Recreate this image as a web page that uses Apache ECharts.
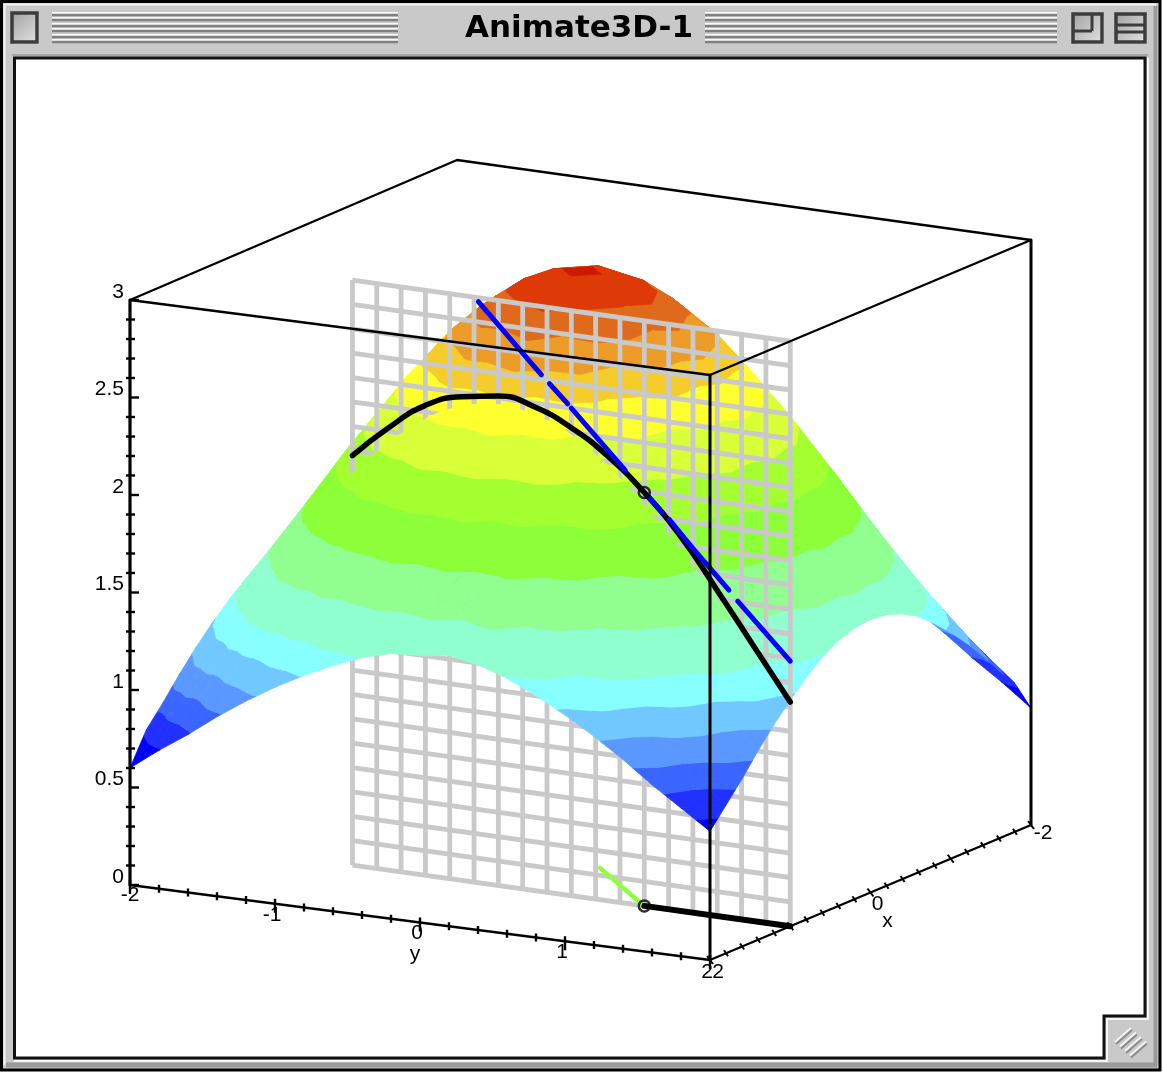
<!DOCTYPE html>
<html><head><meta charset="utf-8"><style>html,body{margin:0;padding:0;background:#fff}#c{width:1163px;height:1077px}</style>
<script src="https://cdn.jsdelivr.net/npm/echarts@6/dist/echarts.min.js"></script></head>
<body><div id="c"></div>
<script>
const windowTitle = 'Animate3D-1';
const gridX = [-2,-1.8,-1.6,-1.4,-1.2,-1,-0.8,-0.6,-0.4,-0.2,0,0.2,0.4,0.6,0.8,1,1.2,1.4,1.6,1.8,2];
const gridY = [-2,-1.8,-1.6,-1.4,-1.2,-1,-0.8,-0.6,-0.4,-0.2,0,0.2,0.4,0.6,0.8,1,1.2,1.4,1.6,1.8,2];
// surface heights: one row per gridX value, one column per gridY value
const surfaceZ = [
[.66,.76,.86,.97,1.07,1.16,1.24,1.31,1.36,1.39,1.37,1.36,1.32,1.26,1.19,1.11,1.02,.92,.81,.71,.60],
[.76,.88,1.00,1.12,1.23,1.34,1.44,1.51,1.57,1.61,1.62,1.61,1.57,1.51,1.44,1.34,1.23,1.12,1.00,.88,.76],
[.86,1.00,1.13,1.27,1.40,1.53,1.63,1.72,1.79,1.83,1.84,1.83,1.79,1.72,1.63,1.53,1.40,1.27,1.13,1.00,.86],
[.97,1.12,1.27,1.42,1.57,1.71,1.83,1.93,2.01,2.05,2.07,2.05,2.01,1.93,1.83,1.71,1.57,1.42,1.27,1.12,.97],
[1.07,1.23,1.40,1.57,1.74,1.89,2.02,2.13,2.21,2.26,2.28,2.26,2.21,2.13,2.02,1.89,1.74,1.57,1.40,1.23,1.07],
[1.16,1.34,1.53,1.71,1.89,2.05,2.20,2.32,2.41,2.46,2.48,2.46,2.41,2.32,2.20,2.05,1.89,1.71,1.53,1.34,1.16],
[1.24,1.44,1.63,1.83,2.02,2.20,2.35,2.48,2.58,2.64,2.66,2.64,2.58,2.48,2.35,2.20,2.02,1.83,1.63,1.44,1.24],
[1.31,1.51,1.72,1.93,2.13,2.32,2.48,2.62,2.72,2.78,2.80,2.78,2.72,2.62,2.48,2.32,2.13,1.93,1.72,1.51,1.31],
[1.36,1.57,1.79,2.01,2.21,2.41,2.58,2.72,2.82,2.89,2.91,2.89,2.82,2.72,2.58,2.41,2.21,2.01,1.79,1.57,1.36],
[1.39,1.61,1.83,2.05,2.26,2.46,2.64,2.78,2.89,2.95,2.98,2.95,2.89,2.78,2.64,2.46,2.26,2.05,1.83,1.61,1.39],
[1.40,1.62,1.84,2.07,2.28,2.48,2.66,2.80,2.91,2.98,3.00,2.98,2.91,2.80,2.66,2.48,2.28,2.07,1.84,1.62,1.40],
[1.39,1.61,1.83,2.05,2.26,2.46,2.64,2.78,2.89,2.95,2.98,2.95,2.89,2.78,2.64,2.46,2.26,2.05,1.83,1.61,1.39],
[1.36,1.57,1.79,2.01,2.21,2.41,2.58,2.72,2.82,2.89,2.91,2.89,2.82,2.72,2.58,2.41,2.21,2.01,1.79,1.57,1.36],
[1.31,1.51,1.72,1.93,2.13,2.32,2.48,2.62,2.72,2.78,2.80,2.78,2.72,2.62,2.48,2.32,2.13,1.93,1.72,1.51,1.31],
[1.24,1.44,1.63,1.83,2.02,2.20,2.35,2.48,2.58,2.64,2.66,2.64,2.58,2.48,2.35,2.20,2.02,1.83,1.63,1.44,1.24],
[1.16,1.34,1.53,1.71,1.89,2.05,2.20,2.32,2.41,2.46,2.48,2.46,2.41,2.32,2.20,2.05,1.89,1.71,1.53,1.34,1.16],
[1.07,1.23,1.40,1.57,1.74,1.89,2.02,2.13,2.21,2.26,2.28,2.26,2.21,2.13,2.02,1.89,1.74,1.57,1.40,1.23,1.07],
[.97,1.12,1.27,1.42,1.57,1.71,1.83,1.93,2.01,2.05,2.07,2.05,2.01,1.93,1.83,1.71,1.57,1.42,1.27,1.12,.97],
[.86,1.00,1.13,1.27,1.40,1.53,1.63,1.72,1.79,1.83,1.84,1.83,1.79,1.72,1.63,1.53,1.40,1.27,1.13,1.00,.86],
[.76,.88,1.00,1.12,1.23,1.34,1.44,1.51,1.57,1.61,1.62,1.61,1.57,1.51,1.44,1.34,1.23,1.12,1.00,.88,.76],
[.60,.71,.81,.92,1.02,1.11,1.19,1.26,1.32,1.36,1.37,1.39,1.36,1.31,1.24,1.16,1.07,.97,.86,.76,.66]];
const bandLevels = [0,.71,.82,.93,1.05,1.18,1.31,1.52,1.74,1.96,2.15,2.34,2.5,2.62,2.74,2.86,2.97,9];
const bandColors = ['#0000ff','#2030ff','#3a66ff','#5a98ff','#70c8ff','#88ffff','#90ffd0','#90ff90','#8cff38','#a4ff30','#d8ff38','#ffff30','#f5cc2a','#ec9a28','#e06a1c','#dd3a08','#cc1a00'];
// slice at x = 1
const sliceY = [-1,-.75,-.5,-.25,0,.25,.5,.75,1,1.25,1.5,1.75,2];
const sliceZ = [2.10,2.27,2.41,2.48,2.51,2.48,2.40,2.28,2.12,1.92,1.67,1.41,1.15];
// tangent at (1,1), drawn in visible pieces
const tangentY = [-.137,.295,null,.35,.475,null,.5,.87,null,1.03,1.12,null,1.17,1.33,null,1.33,1.58,null,1.64,2];
const tangentZ = [2.98,2.65,null,2.61,2.52,null,2.5,2.22,null,2.1,2.03,null,2,1.87,null,1.87,1.68,null,1.63,1.36];
const pointY = [1]; const pointZ = [2.12];
const gradX = [1,.26]; const gradY = [1,.27];
const zTicks = ['0','0.5','1','1.5','2','2.5','3'];
const yTicks = ['-2','-1','0','1','2'];
const xTicks = ['-2','0','2'];
const sliceEndsX = [.924,1]; const sliceEndsY = [-1.07,2];

const L=[130,885],F=[710,960],R=[1031,825],B=[457,745];
function project(x,y,z){const u=(y+2)/4,v=(2-x)/4;
  const f=i=>L[i]*(1-u)*(1-v)+F[i]*u*(1-v)+R[i]*u*v+B[i]*(1-u)*v;
  return [f(0),f(1)-z*195];}
function onSlice(t,z){const s=(t+1)/3;
  return project(sliceEndsX[0]+(sliceEndsX[1]-sliceEndsX[0])*s, sliceEndsY[0]+(sliceEndsY[1]-sliceEndsY[0])*s, z);}
// points are [x,y,z,c]: c is the height used for the colour bands
function clip(poly,lev,keepAbove){const out=[];
  for(let i=0;i<poly.length;i++){const a=poly[i],b=poly[(i+1)%poly.length];
    const ia=keepAbove?a[3]>=lev:a[3]<=lev, ib=keepAbove?b[3]>=lev:b[3]<=lev;
    if(ia)out.push(a);
    if(ia!==ib){const t=(lev-a[3])/(b[3]-a[3]);out.push([a[0]+(b[0]-a[0])*t,a[1]+(b[1]-a[1])*t,a[2]+(b[2]-a[2])*t,lev]);}}
  return out;}
function bandsOf(tri,target){for(let k=0;k<bandColors.length;k++){
    let p=clip(tri,bandLevels[k],true); if(p.length>2)p=clip(p,bandLevels[k+1],false);
    if(p.length>2)target.push({pts:p.map(q=>project(q[0],q[1],q[2])),color:bandColors[k]});}}
// the colour bands follow every second row and column of the heights, cut along one diagonal
function colourAt(i,j){
  const a=Math.min(Math.floor(i/2),9)*2,b=Math.min(Math.floor(j/2),9)*2,u=(i-a)/2,v=(j-b)/2;
  const c00=surfaceZ[a][b],c10=surfaceZ[a+2][b],c01=surfaceZ[a][b+2],c11=surfaceZ[a+2][b+2];
  return u+v<=1? c00+(c10-c00)*u+(c01-c00)*v : c11+(c01-c11)*(1-u)+(c10-c11)*(1-v);}
const backPolys=[],frontPolys=[];
for(let i=0;i<gridX.length-1;i++)for(let j=0;j<gridY.length-1;j++){
  const P=(a,b)=>[gridX[a],gridY[b],surfaceZ[a][b],colourAt(a,b)];
  const t=gridX[i]<0.99?backPolys:frontPolys;
  bandsOf([P(i,j),P(i+1,j),P(i,j+1)],t);
  bandsOf([P(i+1,j),P(i+1,j+1),P(i,j+1)],t);
}
function polySeries(polys,z){return {type:'custom',coordinateSystem:'cartesian2d',z:z,silent:true,clip:false,progressive:0,animation:false,
  data:polys.map((p,i)=>[i]),encode:{x:0,y:0},
  renderItem:(params,api)=>{const p=polys[params.dataIndex];
    return {type:'polygon',shape:{points:p.pts.map(q=>api.coord(q))},style:{fill:p.color,stroke:p.color,lineWidth:.8}};}};}
function segSeries(segs,z){return {type:'custom',coordinateSystem:'cartesian2d',z:z,silent:true,clip:false,progressive:0,animation:false,
  data:segs.map((s,i)=>[i]),encode:{x:0,y:0},
  renderItem:(params,api)=>{const s=segs[params.dataIndex],a=api.coord(s.a),b=api.coord(s.b);
    return {type:'line',shape:{x1:a[0]+(s.dxa||0),y1:a[1]+(s.dya||0),x2:b[0]+(s.dxb||0),y2:b[1]+(s.dyb||0)},style:{stroke:s.color||'#000',lineWidth:s.w}};}};}
function lineSeries(pts,color,w,z,smooth){return {type:'line',data:pts,z:z,showSymbol:false,silent:true,clip:false,connectNulls:false,animation:false,smooth:smooth||false,
  lineStyle:{color:color,width:w,cap:'round'}};}
// plane grid
const planeSegs=[];
for(let c=0;c<=18;c++){const t=-1+c/6;planeSegs.push({a:onSlice(t,0),b:onSlice(t,3),color:'#c9c9c9',w:4.8});}
for(let r=0;r<=24;r++){const z=r/8;planeSegs.push({a:onSlice(-1,z),b:onSlice(2,z),color:'#c9c9c9',w:4.8});}
// axes ticks
const tickSegs=[];
for(let i=0;i<=30;i++){const p=project(2,-2,i/10);const maj=i%5===0;tickSegs.push({a:p,b:p,dxa:maj?0:-4,dxb:maj?9:5,w:2.4});}
for(let i=0;i<=20;i++){const p=project(2,-2+i/5,0);const maj=i%5===0;tickSegs.push({a:p,b:p,dya:maj?-5:-4,dyb:maj?9:4,w:2.4});}
for(let i=0;i<=20;i++){const p=project(2-i/5,2,0);const maj=i%5===0;tickSegs.push({a:p,b:p,dxa:maj?-3:-2,dya:maj?-4:-3,dxb:maj?3:2,dyb:maj?4:3,w:2});}
// labels
const labels=[];
zTicks.forEach(s=>{const p=project(2,-2,+s);labels.push({s:s,p:p,dx:-6,dy:-8,align:'right'});});
yTicks.forEach(s=>{const p=project(2,+s,0);labels.push({s:s,p:p,dx:s==='-2'?0:(s==='-1'?-3:-3),dy:s==='2'?12:(s==='-2'?10:11),align:'center'});});
labels.push({s:'y',p:project(2,0,0),dx:-5,dy:32,align:'center'});
labels.push({s:'2',p:project(2,2,0),dx:8,dy:12,align:'center'});
labels.push({s:'0',p:project(0,2,0),dx:7,dy:12,align:'center'});
labels.push({s:'x',p:project(0,2,0),dx:17,dy:29,align:'center'});
labels.push({s:'-2',p:project(-2,2,0),dx:12,dy:8,align:'center'});
const labelSeries={type:'custom',coordinateSystem:'cartesian2d',z:30,silent:true,clip:false,progressive:0,animation:false,
  data:labels.map((l,i)=>[i]),encode:{x:0,y:0},
  renderItem:(params,api)=>{const l=labels[params.dataIndex],c=api.coord(l.p);
    return {type:'text',x:c[0]+l.dx,y:c[1]+l.dy,style:{text:l.s,fill:'#000',font:'21px "Liberation Sans"',textAlign:l.align,textVerticalAlign:'middle'}};}};

const cubeTop=[project(2,-2,3),project(2,2,3),project(-2,2,3),project(-2,-2,3),project(2,-2,3)];
const series=[
 polySeries(backPolys,3),
 segSeries(planeSegs,4),
 polySeries(frontPolys,5),
 lineSeries(sliceY.map((t,i)=>onSlice(t,sliceZ[i])),'#000',5.5,6,0.5),
 lineSeries(tangentY.map((t,i)=>t===null?[null,null]:onSlice(t,tangentZ[i])),'#0000ff',5,7),
 lineSeries(gradX.map((x,i)=>project(x,gradY[i],0)),'#90ff40',4.5,6),
 lineSeries([onSlice(1,0),onSlice(2,0)],'#000',6,7),
 lineSeries(cubeTop,'#000',2.4,8),
 lineSeries([project(2,2,3),project(2,2,0)],'#000',3,8),
 lineSeries([project(-2,2,3),project(-2,2,0)],'#000',3,8),
 lineSeries([project(2,-2,3),project(2,-2,0)],'#000',3.2,8),
 lineSeries([project(2,-2,0),project(2,2,0)],'#000',2.4,8),
 lineSeries([project(2,2,0),project(-2,2,0)],'#000',2.4,8),
 segSeries(tickSegs,9),
 {type:'scatter',z:10,silent:true,clip:false,animation:false,symbol:'circle',symbolSize:11,
  data:[onSlice(pointY[0],pointZ[0]),onSlice(pointY[0],0)],
  itemStyle:{color:'rgba(0,0,0,0)',borderColor:'#000',borderWidth:2.5}},
 labelSeries
];

// window frame
const g=[];
const rect=(x,y,w,h,fill,extra)=>g.push(Object.assign({type:'rect',z:-5,silent:true,shape:{x,y,width:w,height:h},style:{fill}},extra||{}));
const seg=(x1,y1,x2,y2,stroke,lw)=>g.push({type:'line',z:-4,silent:true,shape:{x1,y1,x2,y2},style:{stroke,lineWidth:lw}});
const grad=()=>({type:'linear',x:0,y:0,x2:1,y2:1,colorStops:[{offset:0,color:'#a0a0a0'},{offset:1,color:'#e4e4e4'}]});
rect(0,0,1160,1071,'#c9c9c9');
seg(1,1.5,1160,1.5,'#000',3);seg(1.5,0,1.5,1071,'#000',3);seg(1160,0,1160,1071,'#000',3);seg(0,1070,1161,1070,'#000',3);
seg(4,4.5,1156,4.5,'#f4f4f4',2);seg(4.5,4,4.5,1065,'#f4f4f4',2);
seg(1155.5,6,1155.5,1066,'#9a9a9a',4);seg(6,1065,1157,1065,'#9a9a9a',5);
seg(12,55,1148,55,'#a5a5a5',2);
g.push({type:'polygon',z:-3,silent:true,shape:{points:[[14.5,58],[1145,58],[1145,1016],[1104,1016],[1104,1058],[14.5,1058]]},style:{fill:'#fff',stroke:'#111',lineWidth:3}});
g.push({type:'polyline',z:-3,silent:true,shape:{points:[[1148,58],[1148,1019],[1107,1019],[1107,1061],[14,1061]]},style:{fill:'none',stroke:'#f6f6f6',lineWidth:2}});
// title stripes
[15,20,26,31,37,42].forEach(y=>{[[52,398],[705,1057]].forEach(r=>{seg(r[0],y-2,r[1],y-2,'#f8f8f8',2);seg(r[0],y,r[1],y,'#808080',2.4);});});
// boxes
const box=(x,y,w,h)=>{rect(x+2,y+2,w,h,'#f4f4f4');rect(x,y,w,h,grad(),{style:{fill:grad(),stroke:'#3c3c3c',lineWidth:3.5}});};
box(12,13,25,29);box(1073,14,29,28);box(1116,14,29,28);
seg(1092,14,1092,31,'#3c3c3c',3);seg(1073,31,1092,31,'#3c3c3c',3);
seg(1116,25,1145,25,'#3c3c3c',3);seg(1116,32,1145,32,'#3c3c3c',3);
g.push({type:'text',z:-2,silent:true,x:579,y:29,style:{text:windowTitle,fill:'#000',font:'bold 31px "DejaVu Sans"',textAlign:'center',textVerticalAlign:'middle'}});
// grow box
[0,1,2,3].forEach(i=>{const dx=i*5,dy=i*4.5;
  seg(1115+dx,1042+dy,1131+dx,1028+dy,'#f4f4f4',2);seg(1116+dx,1044+dy,1132+dx,1030+dy,'#8c8c8c',2);});

const chart=echarts.init(document.getElementById('c'),null,{renderer:'canvas'});
chart.setOption({animation:false,backgroundColor:'#fff',
  grid:{left:0,top:0,width:1163,height:1077,show:false},
  xAxis:{type:'value',min:0,max:1163,show:false},
  yAxis:{type:'value',min:0,max:1077,inverse:true,show:false},
  tooltip:{show:false},graphic:{elements:g},series:series});
</script></body></html>
